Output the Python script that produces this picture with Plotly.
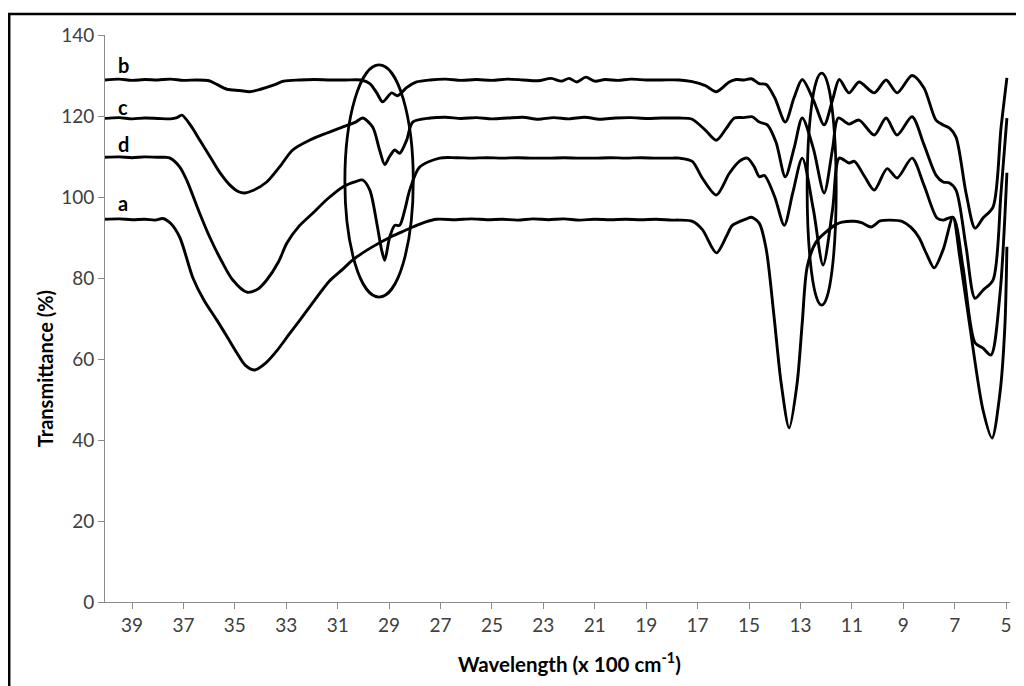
import plotly.graph_objects as go

# ---------------- data ----------------
x_a = [40.05, 39.5, 39.0, 38.5, 38.1, 37.8, 37.5, 37.14, 36.63, 36.2, 35.70, 35.3, 34.92, 34.6, 34.22,
       33.8, 33.37, 32.9, 32.47, 31.9, 31.31, 30.8, 30.41, 29.7, 28.98, 28.5, 28.08, 27.6, 27.15,
       26.4, 25.8, 25.2, 24.6, 24.0, 23.4, 22.8, 22.2, 21.6, 21.0, 20.4, 19.8, 19.2, 18.6, 18.0,
       17.71, 17.2, 16.82, 16.27, 15.88, 15.65, 15.1, 14.91, 14.6, 14.33, 14.02, 13.75, 13.44, 13.13,
       12.93, 12.74, 12.4, 12.0, 11.6, 11.38, 10.9, 10.6, 10.25, 9.9, 9.5, 9.05, 8.7, 8.39, 8.1,
       7.80, 7.45, 7.07, 6.8, 6.41, 5.90, 5.55, 5.24, 5.05, 4.97]
y_a = [94.5, 94.6, 94.4, 94.5, 94.3, 94.7, 93.5, 90.0, 80.0, 74.5, 69.6, 65.5, 61.5, 58.5, 57.3,
       59.0, 62.0, 66.0, 69.6, 74.5, 79.3, 82.2, 84.5, 87.5, 90.0, 91.4, 92.6, 93.8, 94.5,
       94.4, 94.6, 94.4, 94.5, 94.3, 94.6, 94.4, 94.6, 94.3, 94.5, 94.4, 94.5, 94.4, 94.5, 94.3,
       94.3, 94.0, 92.0, 86.2, 90.3, 93.0, 94.6, 95.0, 93.5, 87.0, 70.0, 54.0, 43.0, 54.0,
       69.0, 82.7, 88.8, 91.4, 93.3, 93.8, 94.0, 93.6, 92.6, 94.1, 94.3, 94.0, 92.5, 90.0, 86.0,
       82.5, 87.0, 95.0, 85.0, 68.0, 47.4, 40.5, 51.6, 68.0, 87.7]

x_b = [40.05, 39.5, 39.0, 38.5, 38.0, 37.5, 37.0, 36.5, 36.0, 35.7, 35.31, 34.8, 34.42, 34.0, 33.5,
       33.1, 32.5, 31.9, 31.3, 30.7, 30.1, 29.75, 29.48, 29.25, 28.90, 28.67, 28.32, 27.93, 27.4,
       26.8, 26.2, 25.6, 25.0, 24.4, 23.8, 23.2, 22.7, 22.3, 22.0, 21.7, 21.35, 21.0, 20.6, 20.1,
       19.6, 19.0, 18.4, 17.71, 17.21, 16.7, 16.27, 15.77, 15.5, 15.2, 14.91, 14.6, 14.33, 14.0,
       13.59, 13.25, 12.93, 12.5, 12.08, 11.75, 11.49, 11.11, 10.72, 10.13, 9.67, 9.24, 8.66, 8.2,
       7.73, 7.45, 7.2, 6.95, 6.56, 6.21, 5.90, 5.51, 5.20, 4.97]
y_b = [128.9, 129.1, 128.8, 129.0, 128.9, 129.1, 128.8, 128.9, 128.7, 127.8, 126.6, 126.3, 126.0, 126.6, 127.6,
       128.6, 128.9, 129.0, 128.9, 128.9, 128.9, 128.0, 125.7, 123.5, 125.7, 125.0, 127.0, 128.4, 128.9,
       129.1, 128.8, 129.0, 128.8, 129.1, 128.9, 128.7, 129.3, 128.6, 129.3, 128.4, 129.6, 128.6, 129.0, 128.8,
       129.1, 128.9, 128.9, 128.9, 128.5, 127.5, 126.0, 128.4, 129.0, 128.9, 129.2, 128.0, 127.8, 124.5,
       118.5, 124.5, 129.0, 124.0, 117.8, 124.0, 129.0, 125.7, 128.4, 125.7, 128.9, 125.7, 130.0, 127.0,
       119.0, 117.8, 117.0, 114.8, 101.0, 92.3, 94.8, 97.5, 117.0, 129.4]

x_c = [40.05, 39.5, 39.0, 38.5, 38.0, 37.5, 37.25, 37.06, 36.7, 36.36, 35.97, 35.58, 35.2, 34.85, 34.61,
       34.3, 33.76, 33.25, 32.75, 32.1, 31.42, 30.8, 30.3, 30.03, 29.64, 29.37, 29.17, 28.98, 28.78,
       28.59, 28.32, 28.08, 27.4, 26.8, 26.2, 25.6, 25.0, 24.4, 23.8, 23.2, 22.6, 22.0, 21.4, 20.8,
       20.2, 19.6, 19.0, 18.4, 17.71, 17.21, 16.7, 16.27, 15.9, 15.57, 15.2, 14.87, 14.6, 14.29,
       13.95, 13.59, 13.25, 12.93, 12.5, 12.08, 11.75, 11.53, 11.11, 10.72, 10.13, 9.67, 9.24, 8.66,
       8.2, 7.73, 7.45, 7.22, 6.95, 6.56, 6.21, 5.90, 5.51, 5.20, 4.97]
y_c = [119.4, 119.6, 119.3, 119.5, 119.4, 119.3, 119.6, 120.2, 117.5, 114.0, 110.0, 106.0, 103.0, 101.3, 101.0,
       101.6, 103.7, 107.5, 111.6, 114.0, 115.8, 117.3, 118.5, 119.5, 117.3, 111.6, 108.0, 110.0, 111.6,
       110.8, 114.0, 118.5, 119.5, 119.7, 119.4, 119.6, 119.3, 119.5, 119.7, 119.2, 119.6, 119.3, 119.7, 119.2,
       119.5, 119.6, 119.4, 119.5, 119.5, 119.2, 116.5, 114.0, 116.8, 119.5, 119.6, 119.8, 118.5, 117.8,
       113.5, 105.0, 112.0, 119.5, 112.0, 101.0, 112.0, 119.5, 118.0, 119.0, 115.3, 119.5, 115.3, 119.8,
       113.0, 105.4, 103.7, 103.5, 101.7, 87.7, 75.0, 77.0, 79.5, 101.0, 119.5]

x_d = [40.05, 39.5, 39.0, 38.5, 38.0, 37.7, 37.52, 37.14, 36.86, 36.4, 35.97, 35.5, 35.08, 34.53, 34.1,
       33.76, 33.3, 32.98, 32.5, 31.97, 31.4, 30.80, 30.3, 30.03, 29.75, 29.48, 29.29, 29.17, 28.98,
       28.78, 28.59, 28.39, 28.20, 27.81, 27.03, 26.4, 25.8, 25.2, 24.6, 24.0, 23.4, 22.8, 22.2, 21.6,
       21.0, 20.4, 19.8, 19.2, 18.6, 18.0, 17.71, 17.21, 16.82, 16.27, 15.77, 15.38, 15.07, 14.8, 14.60,
       14.4, 14.0, 13.63, 13.3, 12.93, 12.5, 12.12, 11.75, 11.49, 11.11, 10.9, 10.5, 10.13, 9.63, 9.24,
       8.66, 8.2, 7.69, 7.45, 7.07, 6.68, 6.21, 5.90, 5.59, 5.24, 4.97]
y_d = [109.8, 109.9, 109.7, 109.9, 109.8, 109.8, 109.6, 107.4, 104.0, 96.5, 90.0, 84.0, 79.5, 76.5, 77.3,
       79.5, 84.0, 88.6, 92.8, 96.0, 99.5, 102.5, 103.8, 104.2, 101.7, 93.6, 86.9, 84.4, 90.0,
       93.0, 93.0, 96.8, 101.7, 107.4, 109.6, 109.7, 109.6, 109.7, 109.6, 109.7, 109.6, 109.6, 109.7, 109.6,
       109.6, 109.7, 109.6, 109.7, 109.6, 109.6, 109.6, 108.8, 104.7, 100.5, 105.8, 108.8, 109.6, 107.5, 105.0,
       105.3, 100.0, 93.0, 101.0, 109.6, 97.0, 83.2, 97.0, 109.6, 108.4, 108.8, 105.0, 101.7, 107.0, 104.7,
       109.6, 103.0, 94.8, 94.3, 95.0, 82.7, 64.0, 62.7, 61.0, 76.0, 106.0]

curve_names = ["a", "b", "c", "d"]
label_x = [39.35, 39.35, 39.35, 39.35]
label_y = [98.5, 132.6, 122.2, 113.0]

# ellipses marking regions: [x0, x1, y0, y1] in axis units
ellipse_1 = [30.72, 28.06, 75.3, 132.6]
ellipse_2 = [12.74, 11.61, 73.3, 130.6]

x_tick_vals = list(range(39, 4, -2))
y_tick_vals = list(range(0, 141, 20))

# ---------------- figure ----------------
# page body has an 8px default margin: size the figure so it fills the window
OFF = 8
W, H = 1024 - OFF, 686 - OFF
L, T = 105 - OFF, 35 - OFF
R = (1024 - OFF) - (1012 - OFF)
B = H - (602 - OFF)
pw, ph = W - L - R, H - T - B


def px_x(ax):  # absolute window x -> paper
    return (ax - OFF - L) / pw


def px_y(ay):  # absolute window y -> paper
    return (H - B - (ay - OFF)) / ph


fig = go.Figure()
line_style = dict(color="black", width=2.9, shape="spline", smoothing=0.8)
for xs, ys, nm in [(x_a, y_a, "a"), (x_b, y_b, "b"), (x_c, y_c, "c"), (x_d, y_d, "d")]:
    fig.add_trace(go.Scatter(x=xs, y=ys, mode="lines", name=nm, line=line_style,
                             showlegend=False, hoverinfo="skip"))

for e in (ellipse_1, ellipse_2):
    fig.add_shape(type="circle", xref="x", yref="y", x0=e[0], x1=e[1], y0=e[2], y1=e[3],
                  line=dict(color="black", width=2.8))

for nm, lx, ly in zip(curve_names, label_x, label_y):
    fig.add_annotation(x=lx, y=ly, xref="x", yref="y", text=nm, showarrow=False,
                       xanchor="center", yanchor="middle",
                       font=dict(family="Lato", size=20, color="black", weight="bold"))

# outer black frame (partly outside the view)
fig.add_shape(type="rect", xref="paper", yref="paper",
              x0=px_x(9), x1=px_x(1060), y0=px_y(720), y1=px_y(14),
              line=dict(color="black", width=2.5), layer="below")

fig.add_annotation(xref="paper", yref="paper", x=px_x(571), y=px_y(662),
                   xanchor="center", yanchor="middle",
                   text="Wavelength (x 100 cm<sup>-1</sup>)", showarrow=False,
                   font=dict(family="Lato", size=20.5, color="black", weight="bold"))
fig.add_annotation(xref="paper", yref="paper", x=px_x(45), y=px_y(369),
                   xanchor="center", yanchor="middle",
                   text="Transmittance (%)", showarrow=False, textangle=-90,
                   font=dict(family="Lato", size=20, color="black", weight="bold"))

axis_common = dict(showgrid=False, zeroline=False, showline=True, linecolor="#8c8c8c", linewidth=1,
                   ticks="outside", ticklen=6, tickcolor="#8c8c8c",
                   tickfont=dict(family="Lato", size=19, color="#404040"))
fig.update_xaxes(range=[40.05, 4.85], tickmode="array", tickvals=x_tick_vals,
                 ticktext=[str(v) for v in x_tick_vals], **axis_common)
fig.update_yaxes(range=[0, 140], tickmode="array", tickvals=y_tick_vals, **axis_common)

fig.update_layout(width=W, height=H, margin=dict(l=L, r=R, t=T, b=B),
                  paper_bgcolor="white", plot_bgcolor="white", showlegend=False)

fig.write_html("out.html")
